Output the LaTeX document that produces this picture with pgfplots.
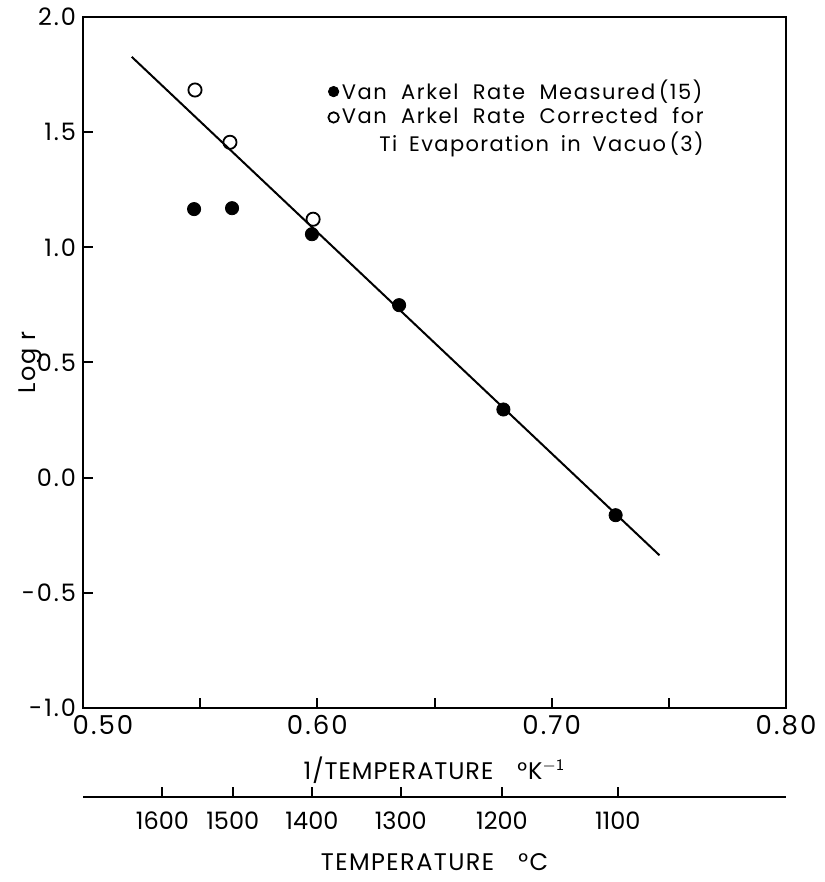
\documentclass[border=0pt]{standalone}
\usepackage{fontspec}
\setmainfont{Poppins}
\newfontfamily\legfam{Poppins}[LetterSpace=7.5,WordSpace=2.0]
\newfontfamily\legfamb{Poppins}[LetterSpace=6.5,WordSpace=1.7]
\usepackage{calc}
\usepackage{pgfplots}
\pgfplotsset{compat=1.18}
\newcommand\spaced[1]{\addfontfeature{LetterSpace=#1}}
\newcommand\legfont{\legfam\fontsize{10.5}{12.5}\selectfont}
\begin{document}
\begin{tikzpicture}
\begin{axis}[
    at={(0,0)}, anchor=south west,
    scale only axis,
    width=351.5pt, height=345.5pt,
    xmin=0.5, xmax=0.8, ymin=-1, ymax=2,
    xtick={0.5,0.55,0.6,0.65,0.7,0.75,0.8},
    xticklabels={\hspace*{20pt}0.50,,0.60,,0.70,,0.80},
    ytick={-1,-0.5,0,0.5,1,1.5,2},
    yticklabels={-1.0,-0.5,0.0,0.5,1.0,1.5,2.0},
    xtick pos=bottom, ytick pos=left,
    tick align=inside,
    major tick length=5pt,
    axis line style={line width=1.1pt},
    tick style={line width=1pt, black},
    xticklabel style={font=\fontsize{13}{15}\selectfont\spaced{8}},
    yticklabel style={font=\fontsize{12}{14}\selectfont\spaced{8}},
    /pgf/number format/assume math mode=true,
    xlabel={1/TEMPERATURE\quad °K$^{\mathsf{-1}}$},
    xlabel style={font=\fontsize{12}{14}\selectfont\spaced{4}, at={(axis description cs:0.5,0)}, anchor=center, yshift=-31pt},
    ylabel={Log r},
    ylabel style={font=\fontsize{12}{14}\selectfont\spaced{6}, at={(axis description cs:-0.0754,0.5)}, anchor=center},
    legend cell align=left,
    legend style={draw=none, fill=none, at={(0.34,0.922)}, anchor=north west,
        font=\legfont, row sep=-2.5pt,
        nodes={inner xsep=1.5pt, inner ysep=2.5pt},
        /tikz/every even column/.append style={column sep=0pt}},
    legend image code/.code={\draw[#1, mark size=2.6pt] plot coordinates {(0pt,0pt)};},
]
\addplot[only marks, mark=*, mark size=3.3pt, black] coordinates {
    (0.5474,1.166) (0.5636,1.170) (0.5977,1.057) (0.6349,0.749) (0.6794,0.296) (0.7273,-0.163)
};
\addlegendentry{Van Arkel Rate Measured\,(15)}
\addplot[only marks, mark=o, mark size=3.3pt, line width=0.9pt, black] coordinates {
    (0.5478,1.683) (0.5627,1.456) (0.5982,1.122)
};
\addlegendentry{Van Arkel Rate Corrected\ for}
\addlegendimage{empty legend}
\addlegendentry{\makebox[\widthof{Van Arkel Rate Corrected\ for}][r]{\legfamb Ti Evaporation in Vacuo\,(3)}}
\addplot[black, line width=1pt, forget plot] coordinates {(0.5208,1.827) (0.746,-0.337)};
\end{axis}
\begin{axis}[
    at={(0,-44.5pt)}, anchor=south west,
    scale only axis,
    width=351.5pt, height=10pt,
    xmin=0.5, xmax=0.8, ymin=0, ymax=1,
    axis x line*=bottom,
    axis y line=none,
    axis line style={line width=1.1pt},
    xtick={0.5339,0.5639,0.5977,0.6356,0.6788,0.7282},
    xticklabels={1600,1500,1400,1300,1200,1100},
    tick align=inside,
    major tick length=5pt,
    tick style={line width=1pt, black},
    xticklabel style={font=\fontsize{12}{14}\selectfont, yshift=-4pt},
    xlabel={TEMPERATURE\quad °C},
    xlabel style={font=\fontsize{12}{14}\selectfont\spaced{6}, at={(axis description cs:0.5,0)}, anchor=center, yshift=-32.5pt},
]
\end{axis}
\pgfresetboundingbox
\path[use as bounding box] (-41.5pt,-87pt) rectangle (370.5pt,354pt);
\end{tikzpicture}
\end{document}
